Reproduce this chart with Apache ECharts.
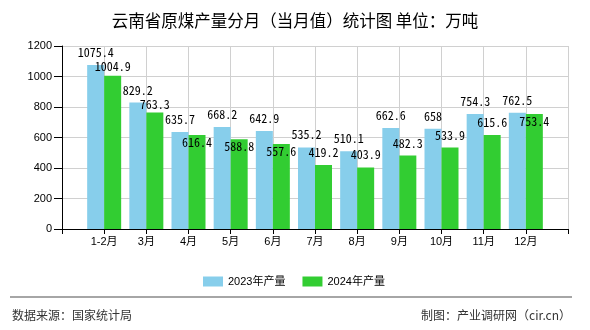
<!DOCTYPE html>
<html>
<head>
<meta charset="utf-8">
<script src="https://cdn.jsdelivr.net/npm/echarts@6/dist/echarts.min.js"></script>
<style>html,body{margin:0;padding:0;background:#fff}#c{width:590px;height:330px}</style>
</head>
<body>
<div id="c"></div>
<script>
const categories = ['1-2月','3月','4月','5月','6月','7月','8月','9月','10月','11月','12月'];
const values2023 = [1075.4, 829.2, 635.7, 668.2, 642.9, 535.2, 510.1, 662.6, 658, 754.3, 762.5];
const values2024 = [1004.9, 763.3, 616.4, 588.8, 557.6, 419.2, 403.9, 482.3, 533.9, 615.6, 753.4];
const seriesNames = ['2023年产量','2024年产量'];
const yMin = 0, yMax = 1200, yStep = 200;

const xData = [''].concat(categories, ['']);
const pad = arr => ['-'].concat(arr, ['-']);

const blueRects = {};
function overlap(a, b) {
  const hx = Math.min(a.x + a.width, b.x + b.width) - Math.max(a.x, b.x);
  const vy = Math.min(a.y + a.height, b.y + b.height) - Math.max(a.y, b.y);
  return (hx > 0 && vy > 0) ? vy : 0;
}

const labelFont = {
  show: true, position: 'top', distance: 6.5, color: '#000',
  fontFamily: '"Noto Sans Mono CJK SC", "Liberation Mono", monospace',
  fontSize: 12, lineHeight: 12
};

const chart = echarts.init(document.getElementById('c'));
chart.setOption({
  animation: false,
  backgroundColor: '#fff',
  title: {
    text: '云南省原煤产量分月（当月值）统计图 单位：万吨',
    left: 'center', top: 7,
    textStyle: { fontSize: 16.5, fontWeight: 'normal', color: '#000', fontFamily: '"Noto Sans CJK SC", sans-serif' }
  },
  legend: {
    data: seriesNames, left: 198, top: 271, itemWidth: 20, itemHeight: 10, itemGap: 17,
    icon: 'rect',
    textStyle: { fontSize: 11, color: '#000', fontFamily: '"Liberation Sans", "Noto Sans CJK SC", sans-serif' }
  },
  grid: { left: 62, right: 22, top: 46, bottom: 101 },
  xAxis: {
    type: 'category', data: xData, boundaryGap: false,
    axisLine: { lineStyle: { color: '#000', width: 1 } },
    axisTick: { show: true, length: 5, alignWithLabel: true, interval: 0, lineStyle: { color: '#000' } },
    axisLabel: { interval: 0, margin: 7, fontSize: 11, color: '#000', fontFamily: '"Liberation Sans", "Noto Sans CJK SC", sans-serif' },
    splitLine: { show: true, interval: 0, lineStyle: { color: '#d0d0d0', width: 1 } }
  },
  yAxis: {
    type: 'value', min: yMin, max: yMax, interval: yStep,
    axisLine: { show: true, lineStyle: { color: '#000', width: 1 } },
    axisTick: { show: true, length: 8, lineStyle: { color: '#000' } },
    axisLabel: { margin: 10, fontSize: 11, color: '#000', fontFamily: '"Liberation Sans", sans-serif',
      formatter: function (v) { return String(v); } },
    splitLine: { show: true, lineStyle: { color: '#d0d0d0', width: 1 } }
  },
  series: [
    {
      name: seriesNames[0], type: 'bar', data: pad(values2023), barWidth: 17, barGap: '0%',
      itemStyle: { color: '#87CEEB' },
      label: labelFont,
      labelLayout: function (p) { blueRects[p.dataIndex] = p.labelRect; return {}; }
    },
    {
      name: seriesNames[1], type: 'bar', data: pad(values2024), barWidth: 17, barGap: '0%',
      itemStyle: { color: '#32CD32' },
      label: labelFont,
      labelLayout: function (p) {
        const r = p.labelRect; let ov = 0;
        [p.dataIndex, p.dataIndex + 1].forEach(function (i) {
          const b = blueRects[i]; if (b) ov = Math.max(ov, overlap(r, b));
        });
        if (ov > 3) return { dy: 20 };
        if (ov > 0) return { dy: ov + 2 };
        return {};
      }
    }
  ],
  graphic: [
    { type: 'line', shape: { x1: 10, y1: 297, x2: 572, y2: 297 }, style: { stroke: '#888', lineWidth: 1.5 } },
    { type: 'text', left: 12, top: 309, style: { text: '数据来源：国家统计局', fontSize: 12, fill: '#333', fontFamily: '"Noto Sans CJK SC", sans-serif' } },
    { type: 'text', right: 19, top: 309, style: { text: '制图：产业调研网（cir.cn）', fontSize: 12, fill: '#333', fontFamily: '"Noto Sans CJK SC", sans-serif' } }
  ]
});
</script>
</body>
</html>
